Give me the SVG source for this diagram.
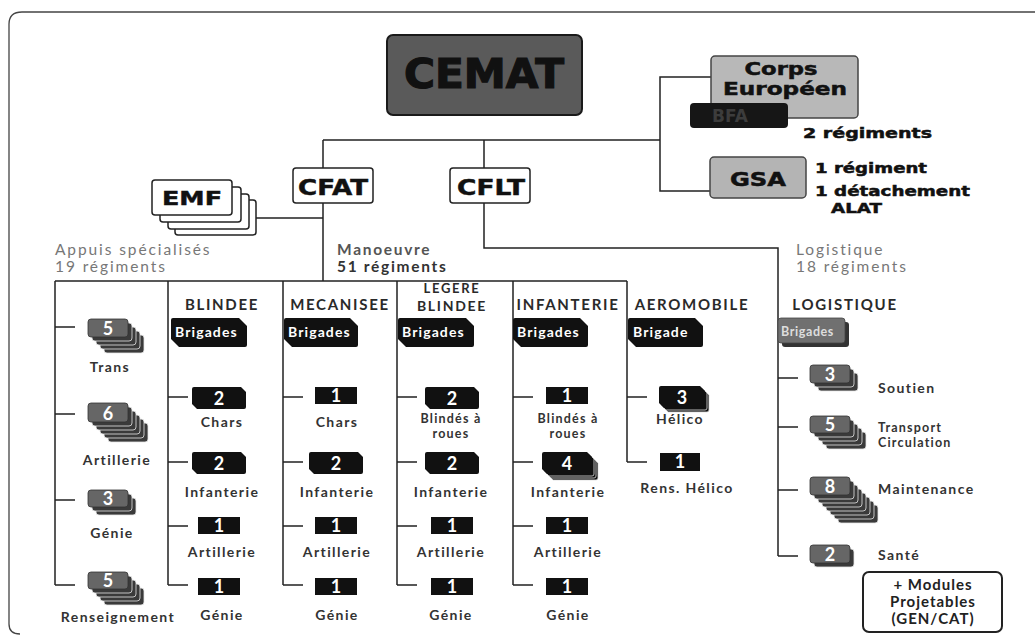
<svg xmlns="http://www.w3.org/2000/svg" width="1035" height="644" viewBox="0 0 1035 644">
<style>
.ln{fill:none;stroke:#222;stroke-width:1.5}
.frame{fill:none;stroke:#444;stroke-width:1.3}
.wide{font-family:'DejaVu Sans',sans-serif;font-weight:bold;fill:#111;stroke:#111;stroke-width:0.5}
.lab{font-family:Lato,'Open Sans',sans-serif;font-weight:bold;font-size:14px;fill:#333;text-anchor:middle;letter-spacing:1.4px}
.lab2{font-family:Lato,'Open Sans',sans-serif;font-weight:bold;font-size:14px;fill:#333;letter-spacing:1.4px}
.sm{font-size:12.5px;letter-spacing:1.2px}
.head{font-family:Lato,'Open Sans',sans-serif;font-weight:bold;font-size:15px;fill:#2a2a2a;text-anchor:middle;letter-spacing:1.7px}
.num{font-family:Lato,'Open Sans',sans-serif;font-weight:bold;font-size:18px;fill:#fff;text-anchor:middle}
.grp{font-family:Lato,'Open Sans',sans-serif;font-size:15.5px;fill:#777;letter-spacing:1.9px}
.grpb{font-family:Lato,'Open Sans',sans-serif;font-weight:bold;font-size:15.5px;fill:#555;letter-spacing:1.7px}
.blk{fill:#111}
.blkl{fill:#111;stroke:#ddd;stroke-width:0.8}
.lay{fill:#3a3a3a;stroke:#e6e6e6;stroke-width:0.8}
.front{fill:#666;stroke:#333;stroke-width:0.8}
.wbox{fill:#fff;stroke:#222;stroke-width:1.5}
.brig{font-family:Lato,'Open Sans',sans-serif;font-weight:bold;font-size:14px;fill:#fff;letter-spacing:1.1px}
</style>
<rect width="1035" height="644" fill="#fff"/>
<path class="frame" d="M1035 12 H22 Q9 12 9 24 V624 Q9 634 20 634"/>

<g id="connectors">
<path class="ln" d="M323 140 H660 M323 140 V281 M484 140 V248 H778 V556 M256 218 H323"/>
<path class="ln" d="M711 77 H660 V191 H710"/>
<path class="ln" d="M55 281 H627 M55 281 V585 M168 281 V585 M283 281 V585 M397 281 V585 M513 281 V585 M627 281 V462"/>
<path class="ln" d="M55 327 H75 M55 414 H75 M55 500 H75 M55 585 H75"/>
<path class="ln" d="M168 397 H188 M168 462 H188 M168 526 H188 M168 585 H188"/>
<path class="ln" d="M283 397 H303 M283 462 H303 M283 526 H303 M283 585 H303"/>
<path class="ln" d="M397 397 H417 M397 462 H417 M397 526 H417 M397 585 H417"/>
<path class="ln" d="M513 397 H533 M513 462 H533 M513 526 H533 M513 585 H533"/>
<path class="ln" d="M627 397 H647 M627 462 H647"/>
<path class="ln" d="M778 378 H798 M778 427 H798 M778 490 H798 M778 556 H798"/>
</g>

<g id="cemat">
<rect x="387" y="35" width="195" height="80" rx="6" fill="#5a5a5a" stroke="#1a1a1a" stroke-width="2"/>
<text class="wide" x="484" y="88" font-size="40" text-anchor="middle" textLength="160" lengthAdjust="spacingAndGlyphs" style="stroke-width:1.2">CEMAT</text>
</g>

<g id="corps-europeen">
<rect x="711" y="56" width="147" height="62" rx="4" fill="#b8b8b8" stroke="#444" stroke-width="1.5"/>
<text class="wide" x="781" y="75" font-size="17" text-anchor="middle" textLength="73" lengthAdjust="spacingAndGlyphs">Corps</text>
<text class="wide" x="785" y="95" font-size="17" text-anchor="middle" textLength="124" lengthAdjust="spacingAndGlyphs">Européen</text>
</g>
<g id="bfa">
<rect x="690" y="103" width="98" height="25" rx="4" fill="#161616"/>
<text class="wide" x="730" y="122" font-size="17" text-anchor="middle" style="fill:#3c3c3c;stroke:none">BFA</text>
<text class="wide" x="803" y="138" font-size="14" textLength="129" lengthAdjust="spacingAndGlyphs">2 régiments</text>
</g>
<g id="gsa">
<rect x="710" y="157" width="96" height="41" rx="4" fill="#b4b4b4" stroke="#444" stroke-width="1.5"/>
<text class="wide" x="758" y="186" font-size="19" text-anchor="middle" textLength="56" lengthAdjust="spacingAndGlyphs">GSA</text>
<text class="wide" x="815" y="173" font-size="14" textLength="112" lengthAdjust="spacingAndGlyphs">1 régiment</text>
<text class="wide" x="815" y="196" font-size="14" textLength="155" lengthAdjust="spacingAndGlyphs">1 détachement</text>
<text class="wide" x="831" y="213" font-size="14" textLength="51" lengthAdjust="spacingAndGlyphs">ALAT</text>
</g>

<g id="cfat">
<rect class="wbox" x="293" y="168" width="80" height="35" rx="3"/>
<text class="wide" x="333" y="195" font-size="21" text-anchor="middle" textLength="70" lengthAdjust="spacingAndGlyphs">CFAT</text>
</g>
<g id="cflt">
<rect class="wbox" x="450" y="168" width="80" height="35" rx="3"/>
<text class="wide" x="491" y="195" font-size="21" text-anchor="middle" textLength="68" lengthAdjust="spacingAndGlyphs">CFLT</text>
</g>
<g id="emf">
<rect class="wbox" x="175" y="200" width="81" height="35" rx="3"/>
<rect class="wbox" x="168" y="194" width="81" height="35" rx="3"/>
<rect class="wbox" x="160" y="187" width="81" height="35" rx="3"/>
<rect class="wbox" x="152" y="180" width="80" height="35" rx="3"/>
<text class="wide" x="192" y="205" font-size="20" text-anchor="middle" textLength="60" lengthAdjust="spacingAndGlyphs">EMF</text>
</g>

<g id="group-labels">
<text class="grp" x="55" y="255">Appuis spécialisés</text>
<text class="grp" x="55" y="272">19 régiments</text>
<text class="grpb" x="337" y="255">Manoeuvre</text>
<text class="grpb" x="337" y="272" style="fill:#333">51 régiments</text>
<text class="grp" x="796" y="255">Logistique</text>
<text class="grp" x="796" y="272">18 régiments</text>
</g>

<g id="headings">
<text class="head" x="222" y="310">BLINDEE</text>
<text class="head" x="340" y="310">MECANISEE</text>
<text class="head" x="452" y="293" style="font-size:13px">LEGERE</text>
<text class="head" x="452" y="311" style="font-size:14px">BLINDEE</text>
<text class="head" x="568" y="310">INFANTERIE</text>
<text class="head" x="692" y="310">AEROMOBILE</text>
<text class="head" x="845" y="310">LOGISTIQUE</text>
</g>

<g id="brigades">
<path class="blk" d="M173 318 H239 L247 326 V345 Q247 347 245 347 H179 L171 339 V320 Q171 318 173 318 Z"/>
<text class="brig" x="175" y="337">Brigades</text>
<path class="blk" d="M286 318 H350 L358 326 V345 Q358 347 356 347 H292 L284 339 V320 Q284 318 286 318 Z"/>
<text class="brig" x="288" y="337">Brigades</text>
<path class="blk" d="M400 318 H466 L474 326 V345 Q474 347 472 347 H406 L398 339 V320 Q398 318 400 318 Z"/>
<text class="brig" x="402" y="337">Brigades</text>
<path class="blk" d="M515 318 H580 L588 326 V345 Q588 347 586 347 H521 L513 339 V320 Q513 318 515 318 Z"/>
<text class="brig" x="517" y="337">Brigades</text>
<path class="blk" d="M630 318 H695 L703 326 V345 Q703 347 701 347 H636 L628 339 V320 Q628 318 630 318 Z"/>
<text class="brig" x="633" y="337">Brigade</text>
<rect x="782" y="322" width="67" height="25" rx="3" fill="#333"/>
<rect x="778" y="318" width="67" height="25" rx="3" fill="#707070" stroke="#444" stroke-width="0.8"/>
<text class="brig" x="781" y="336" style="fill:#ddd;font-size:12.5px;letter-spacing:0.6px">Brigades</text>
</g>

<g id="appuis">
<g id="trans">
<rect class="lay" x="104" y="335" width="40" height="18" rx="3"/><rect class="lay" x="100" y="331" width="40" height="18" rx="3"/><rect class="lay" x="96" y="327" width="40" height="18" rx="3"/><rect class="lay" x="92" y="323" width="40" height="18" rx="3"/>
<rect class="front" x="88" y="319" width="40" height="18" rx="3"/>
<text class="num" x="108" y="335">5</text>
<text class="lab" x="110" y="372">Trans</text>
</g>
<g id="artillerie">
<rect class="lay" x="108" y="423" width="40" height="19" rx="3"/><rect class="lay" x="104" y="419" width="40" height="19" rx="3"/><rect class="lay" x="100" y="415" width="40" height="19" rx="3"/><rect class="lay" x="96" y="411" width="40" height="19" rx="3"/><rect class="lay" x="92" y="407" width="40" height="19" rx="3"/>
<rect class="front" x="88" y="403" width="40" height="19" rx="3"/>
<text class="num" x="108" y="420">6</text>
<text class="lab" x="117" y="465">Artillerie</text>
</g>
<g id="genie">
<rect class="lay" x="96" y="498" width="40" height="17" rx="3"/><rect class="lay" x="92" y="494" width="40" height="17" rx="3"/>
<rect class="front" x="88" y="490" width="40" height="17" rx="3"/>
<text class="num" x="108" y="505">3</text>
<text class="lab" x="112" y="538">Génie</text>
</g>
<g id="renseignement">
<rect class="lay" x="104" y="588" width="40" height="17" rx="3"/><rect class="lay" x="100" y="584" width="40" height="17" rx="3"/><rect class="lay" x="96" y="580" width="40" height="17" rx="3"/><rect class="lay" x="92" y="576" width="40" height="17" rx="3"/>
<rect class="front" x="88" y="572" width="40" height="17" rx="3"/>
<text class="num" x="108" y="587">5</text>
<text class="lab" x="118" y="622">Renseignement</text>
</g>
</g>

<g id="blindee">
<path class="blk" d="M194 387 H241 L246 392 V407 Q246 409 244 409 H197 L192 404 V389 Q192 387 194 387 Z"/>
<text class="num" x="219" y="405">2</text>
<text class="lab" x="222" y="427">Chars</text>
<path class="blk" d="M194 452 H241 L246 457 V472 Q246 474 244 474 H197 L192 469 V454 Q192 452 194 452 Z"/>
<text class="num" x="219" y="470">2</text>
<text class="lab" x="222" y="497">Infanterie</text>
<rect class="blk" x="198" y="517" width="42" height="17"/>
<text class="num" x="219" y="532">1</text>
<text class="lab" x="222" y="557">Artillerie</text>
<rect class="blk" x="198" y="578" width="42" height="17"/>
<text class="num" x="219" y="593">1</text>
<text class="lab" x="222" y="620">Génie</text>
</g>

<g id="mecanisee">
<rect class="blk" x="315" y="387" width="42" height="17"/>
<text class="num" x="336" y="402">1</text>
<text class="lab" x="337" y="427">Chars</text>
<path class="blk" d="M311 452 H358 L363 457 V472 Q363 474 361 474 H314 L309 469 V454 Q309 452 311 452 Z"/>
<text class="num" x="336" y="470">2</text>
<text class="lab" x="337" y="497">Infanterie</text>
<rect class="blk" x="315" y="517" width="42" height="17"/>
<text class="num" x="336" y="532">1</text>
<text class="lab" x="337" y="557">Artillerie</text>
<rect class="blk" x="315" y="578" width="42" height="17"/>
<text class="num" x="336" y="593">1</text>
<text class="lab" x="337" y="620">Génie</text>
</g>

<g id="legere-blindee">
<path class="blk" d="M427 387 H474 L479 392 V407 Q479 409 477 409 H430 L425 404 V389 Q425 387 427 387 Z"/>
<text class="num" x="452" y="405">2</text>
<text class="lab sm" x="451" y="423">Blindés à</text>
<text class="lab sm" x="451" y="438">roues</text>
<path class="blk" d="M427 452 H474 L479 457 V472 Q479 474 477 474 H430 L425 469 V454 Q425 452 427 452 Z"/>
<text class="num" x="452" y="470">2</text>
<text class="lab" x="451" y="497">Infanterie</text>
<rect class="blk" x="431" y="517" width="42" height="17"/>
<text class="num" x="452" y="532">1</text>
<text class="lab" x="451" y="557">Artillerie</text>
<rect class="blk" x="431" y="578" width="42" height="17"/>
<text class="num" x="452" y="593">1</text>
<text class="lab" x="451" y="620">Génie</text>
</g>

<g id="infanterie">
<rect class="blk" x="546" y="387" width="42" height="17"/>
<text class="num" x="567" y="402">1</text>
<text class="lab sm" x="568" y="423">Blindés à</text>
<text class="lab sm" x="568" y="438">roues</text>
<path class="blkl" transform="translate(6 6)" d="M544 452 H587 L592 457 V472 Q592 474 590 474 H547 L542 469 V454 Q542 452 544 452 Z"/>
<path class="blkl" transform="translate(4 4)" d="M544 452 H587 L592 457 V472 Q592 474 590 474 H547 L542 469 V454 Q542 452 544 452 Z"/>
<path class="blkl" transform="translate(2 2)" d="M544 452 H587 L592 457 V472 Q592 474 590 474 H547 L542 469 V454 Q542 452 544 452 Z"/>
<path class="blk" d="M544 452 H587 L592 457 V472 Q592 474 590 474 H547 L542 469 V454 Q542 452 544 452 Z"/>
<text class="num" x="567" y="470">4</text>
<text class="lab" x="568" y="497">Infanterie</text>
<rect class="blk" x="546" y="517" width="42" height="17"/>
<text class="num" x="567" y="532">1</text>
<text class="lab" x="568" y="557">Artillerie</text>
<rect class="blk" x="546" y="578" width="42" height="17"/>
<text class="num" x="567" y="593">1</text>
<text class="lab" x="568" y="620">Génie</text>
</g>

<g id="aeromobile">
<path class="blkl" transform="translate(4 4)" d="M661 386 H700 L705 391 V406 Q705 408 703 408 H664 L659 403 V388 Q659 386 661 386 Z"/>
<path class="blkl" transform="translate(2 2)" d="M661 386 H700 L705 391 V406 Q705 408 703 408 H664 L659 403 V388 Q659 386 661 386 Z"/>
<path class="blk" d="M661 386 H700 L705 391 V406 Q705 408 703 408 H664 L659 403 V388 Q659 386 661 386 Z"/>
<text class="num" x="682" y="404">3</text>
<text class="lab" x="680" y="424">Hélico</text>
<rect class="blk" x="660" y="453" width="40" height="18"/>
<text class="num" x="680" y="468">1</text>
<text class="lab" x="687" y="493">Rens. Hélico</text>
</g>

<g id="logistique">
<g id="soutien">
<rect class="lay" x="818" y="373" width="40" height="18" rx="3"/><rect class="lay" x="814" y="369" width="40" height="18" rx="3"/>
<rect class="front" x="810" y="365" width="40" height="18" rx="3"/>
<text class="num" x="830" y="381">3</text>
<text class="lab2" x="878" y="393">Soutien</text>
</g>
<g id="transport">
<rect class="lay" x="826" y="432" width="40" height="17" rx="3"/><rect class="lay" x="822" y="428" width="40" height="17" rx="3"/><rect class="lay" x="818" y="424" width="40" height="17" rx="3"/><rect class="lay" x="814" y="420" width="40" height="17" rx="3"/>
<rect class="front" x="810" y="416" width="40" height="17" rx="3"/>
<text class="num" x="830" y="431">5</text>
<text class="lab2 sm" x="878" y="432">Transport</text>
<text class="lab2 sm" x="878" y="447">Circulation</text>
</g>
<g id="maintenance">
<rect class="lay" x="838" y="505" width="40" height="18" rx="3"/><rect class="lay" x="834" y="501" width="40" height="18" rx="3"/><rect class="lay" x="830" y="497" width="40" height="18" rx="3"/><rect class="lay" x="826" y="493" width="40" height="18" rx="3"/><rect class="lay" x="822" y="489" width="40" height="18" rx="3"/><rect class="lay" x="818" y="485" width="40" height="18" rx="3"/><rect class="lay" x="814" y="481" width="40" height="18" rx="3"/>
<rect class="front" x="810" y="477" width="40" height="18" rx="3"/>
<text class="num" x="830" y="493">8</text>
<text class="lab2" x="878" y="494">Maintenance</text>
</g>
<g id="sante">
<rect class="lay" x="814" y="549" width="40" height="18" rx="3"/>
<rect class="front" x="810" y="545" width="40" height="18" rx="3"/>
<text class="num" x="830" y="561">2</text>
<text class="lab2" x="878" y="560">Santé</text>
</g>
</g>

<g id="modules">
<rect x="863" y="572" width="139" height="60" rx="6" fill="#fff" stroke="#222" stroke-width="2"/>
<text class="lab" x="933" y="590" style="font-size:15px;fill:#222;letter-spacing:1px">+ Modules</text>
<text class="lab" x="933" y="607" style="font-size:15px;fill:#222;letter-spacing:1px">Projetables</text>
<text class="lab" x="933" y="624" style="font-size:15px;fill:#222;letter-spacing:1px">(GEN/CAT)</text>
</g>
</svg>
